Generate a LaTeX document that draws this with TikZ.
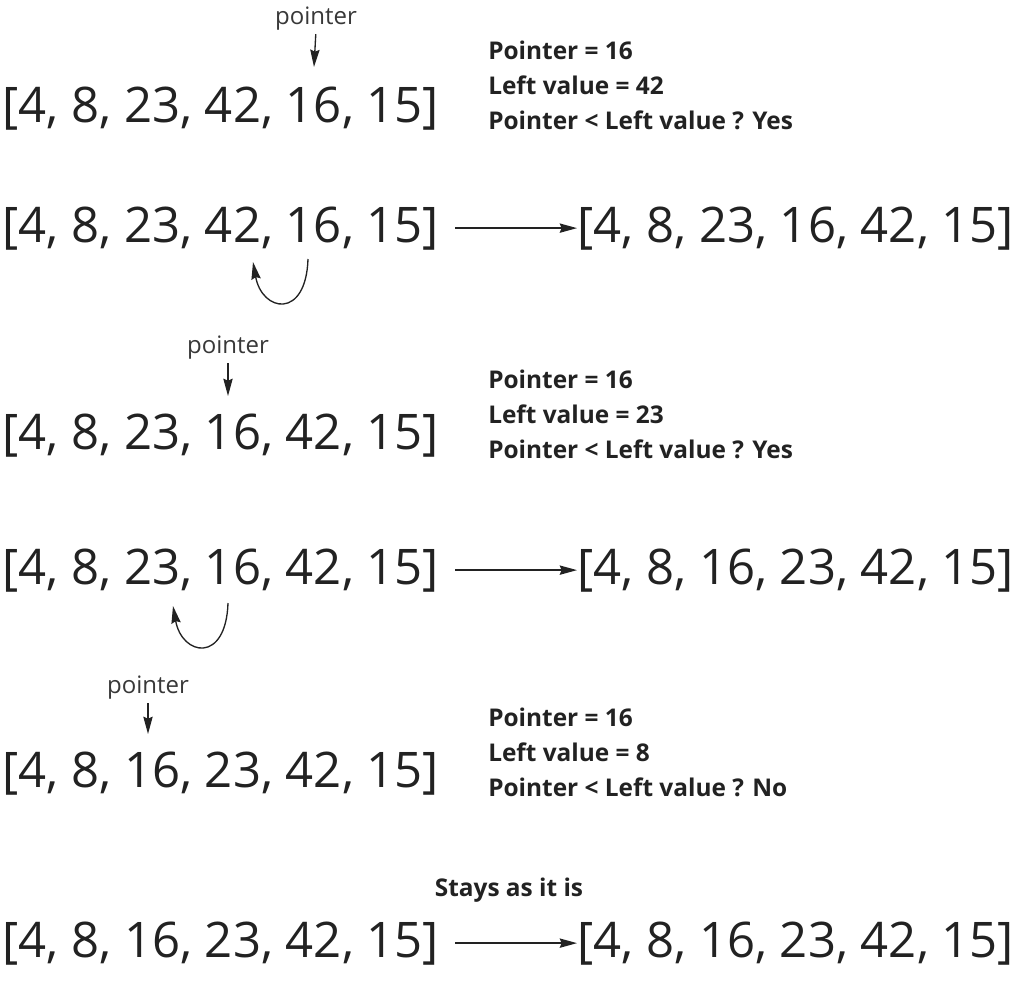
\documentclass[tikz,border=0pt]{standalone}
\usepackage{fontspec}
\setmainfont{Open Sans}
\usetikzlibrary{arrows.meta,positioning}
\definecolor{inkgray}{HTML}{222222}
\begin{document}
\begin{tikzpicture}[
    x=0.75pt, y=-0.75pt,
    every node/.style={inner sep=0pt, text=inkgray},
    array/.style={anchor=base west, font=\fontsize{36.8}{44}\selectfont},
    info/.style={anchor=base west, align=left, font=\fontsize{18.3}{26.25}\selectfont\bfseries},
    pointer/.style={anchor=base, text=inkgray!90, font=\fontsize{18}{22}\selectfont},
    arrow/.style={-{Stealth[length=13pt,width=7pt,inset=1.5pt]}, line width=1pt, draw=inkgray}
]
\useasboundingbox (0,0) rectangle (1016,983);

% Step 1: 16 against 42
\node[pointer] (p1) at (316,24) {pointer};
\coordinate (q1) at (314,67);
\node[array] (a1) at (2,122) {[4, 8, 23, 42, 16, 15]};
\node[info] (i1) at (488,129) {Pointer = 16\\Left value = 42\\Pointer < Left value ? Yes};
\draw[arrow, shorten <=3pt] (p1.south) -- (q1);

% Swap 42 and 16
\node[array] (a2) at (2,242) {[4, 8, 23, 42, 16, 15]};
\node[array] (b2) at (577,242) {[4, 8, 23, 16, 42, 15]};
\coordinate (s2) at (308,259);
\coordinate (t2) at (253,262);
\draw[arrow] ([xshift=12pt]a2.east) -- (b2.west);
\draw[arrow] (s2) .. controls +(-2,61) and +(9,50) .. (t2);

% Step 2: 16 against 23
\node[pointer] (p3) at (228,353) {pointer};
\coordinate (q3) at (228,396);
\node[array] (a3) at (2,449) {[4, 8, 23, 16, 42, 15]};
\node[info] (i3) at (488,458) {Pointer = 16\\Left value = 23\\Pointer < Left value ? Yes};
\draw[arrow, shorten <=3pt] (p3.south) -- (q3);

% Swap 23 and 16
\node[array] (a4) at (2,584) {[4, 8, 23, 16, 42, 15]};
\node[array] (b4) at (577,584) {[4, 8, 16, 23, 42, 15]};
\coordinate (s4) at (228,603);
\coordinate (t4) at (173,606);
\draw[arrow] ([xshift=12pt]a4.east) -- (b4.west);
\draw[arrow] (s4) .. controls +(-2,61) and +(9,50) .. (t4);

% Step 3: 16 against 8
\node[pointer] (p5) at (148,693) {pointer};
\coordinate (q5) at (148,734);
\node[array] (a5) at (2,787) {[4, 8, 16, 23, 42, 15]};
\node[info] (i5) at (488,796) {Pointer = 16\\Left value = 8\\Pointer < Left value ? No};
\draw[arrow, shorten <=3pt] (p5.south) -- (q5);

% No swap
\node[info, anchor=base] (stay) at (509,896) {Stays as it is};
\node[array] (a6) at (2,957) {[4, 8, 16, 23, 42, 15]};
\node[array] (b6) at (577,957) {[4, 8, 16, 23, 42, 15]};
\draw[arrow] ([xshift=12pt]a6.east) -- (b6.west);

\end{tikzpicture}
\end{document}
